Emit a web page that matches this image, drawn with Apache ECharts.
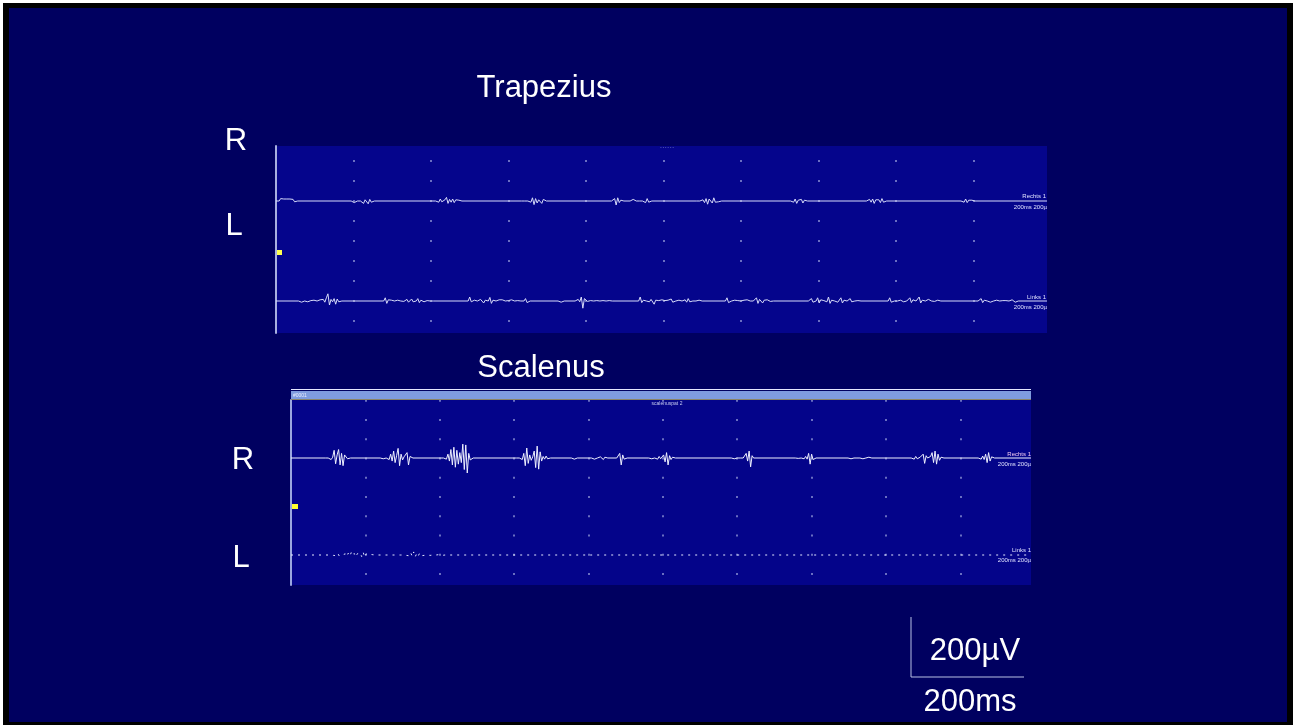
<!DOCTYPE html>
<html>
<head>
<meta charset="utf-8">
<script src="https://cdn.jsdelivr.net/npm/echarts@6/dist/echarts.min.js"></script>
<style>
  html, body { margin: 0; padding: 0; background: #fff; }
  #main { width: 1296px; height: 728px; }
</style>
</head>
<body>
<div id="main"></div>
<script>
// time axis in ms (10 divisions per panel), amplitude in µV
var xMax = 995;
var step = 2; // ms between samples inside a burst

// Trapezius right: [start ms, samples µV]
var trapR = [
  [4,   [0, 6, 6, 5, 5, 5, 5, 5, 5, 4, -2, 0]],
  [99,  [4, -4, 0, 0, 0, 0, 5, -6, 3, 8, -7, 4, -3, 2, 0]],
  [208, [2, -3, 5, -2, -4, 3, 9, -6, 4, -3, 5, -4, 3, -2, 2, 0]],
  [319, [3, 0, 0, 0, 4, -3, 8, -9, 6, -5, 3, 7, -6, 4, 0, 0]],
  [435, [0, 6, -10, 8, -4, 2, 0, 0, 0, 0, 0, 0, -3, 4, 0, 0, 0, 0, 0, 0, 0, -4, 6, -3, 0]],
  [545, [2, 0, -2, 3, -4, 6, -8, 5, 3, -5, 8, -3, 2, -2, 0]],
  [666, [3, -3, 5, -6, 2, 0, 4, -5, 2, 0]],
  [764, [2, 4, -3, 5, -6, 3, 0, 3, -4, 6, -3, 0]],
  [886, [3, -3, 5, -4, 2, 0, 2, 0]]
];

// Trapezius left
var trapL = [
  [31,  [5, -3, 2, 0, 1, -2, 2, 1, -1, 2, -2, 0, 0, 3, -2, 4, -3, 8, 18, -10, 4, -2, 6, -8, 5, -2, 0]],
  [141, [8, -6, 3, -2, 2, 1, 0, -1, 2, 0, 0, 0, -1, 2, 4, -3, 2, 5, -2, 3, 0, 6, -4, 2, 3, -2, 0, 1, 0, 0, 0]],
  [250, [10, -2, -2, 2, 0, 0, 0, 4, 8, -5, 2, 0, 0, 9, -6, 2, 0, 0, 1, 3, 6, 3, -1, 0, 0, 1, 2, 3, 1, 0, -1, 1, 2, 0, 0, 0, 6, -4, 0]],
  [366, [5, -3, 0]],
  [388, [2, 4, -2, 10, -18, 6, 2, -1, 2, 1, 0, 0, 2, 1, 0, 0, -1, 1, 0, 0, 0, 1, 0, 0]],
  [470, [10, -4, 2, 0, 0, 0, -2, 4, 6, -8, 2, 0, 1, 2, 3, -2, 1, 0, 2, 3, 5, -3, 1, 0, 1, 2, 0, 0, 0, 3, -3, 6, -2, 1, 0, 0, 0, 1, 2, -2, 0]],
  [582, [8, -4, 1, 0, 0, 2, 3, 1, 0, 0, 0, 2, -1, 3, 2, 0, 1, 0, 2, 8, -6, 4, 6, -5, 2, 0, 3, 2, -1, 1, 0]],
  [689, [2, 6, -3, 2, 0, 8, -5, 3, 0, 1, 2, -2, 10, -6, 2, 4, 0, 2, -3, 0, 8, -5, 2, 0, 0, 2, 6, -2, 0, 0, 0, 1, 0]],
  [792, [8, -3, 1, 0, 0, 0, 0, 2, 4, -2, 1, 0, 2, 8, -4, 3, 0, 0, 0, 10, -5, 2, 0, 0, 2, 4, 1, 0, 0, -1, 1, 2, 1, 0]],
  [908, [3, 6, -4, 2, 0, 0, 5, -3, 1, 0, 1, 2, 2, 0, -1, 1, 2, 1, 0, 0, 1, 3, 6, -3, 0]]
];

// Scalenus right
var scalR = [
  [48,  [3, 0, 5, -4, 2, 20, -15, 8, 22, -18, 12, -20, 8, 3, -2, 0]],
  [122, [2, -2, 3, 0, 5, -4, 10, -8, 18, -12, 6, 25, -20, 10, -5, 3, 0, 14, -18, 4, 0]],
  [207, [4, -3, 10, -8, 22, -18, 28, -24, 20, -16, 14, -12, 36, -30, 34, -39, 12, -5, 0]],
  [305, [2, 0, 5, -4, 12, -20, 26, -14, 8, -6, 3, 18, -25, 31, -29, 16, -8, 4, -3, 5, -2, 1, 0]],
  [379, [3, -3, 2, 0]],
  [406, [4, -3, 2, 0, 0, 3, 5, -4, 2, 0]],
  [440, [5, 12, -18, 8, -3, 0]],
  [483, [2, -2, 3, 0, 2, -3, 4, -2, 3, 8, -10, 14, -18, 6, -4, 2, 0]],
  [594, [2, -2, 3, 0, 1, 0, 0, 0, 2, 12, -8, 18, -23, 6, 0]],
  [680, [2, -1, 3, 0, 2, -2, 4, -3, 12, -16, 10, -4, 0]],
  [751, [2, -2, 2, 0, 0, 0, 0, 0, 2, -2, 0, 0, 0, 2, -1, 0]],
  [836, [2, -3, 4, -2, 0, 2, -2, 10, -14, 6, 0, 0, 4, 14, -12, 18, -16, 10, -6, 2, 0]],
  [926, [2, -3, 5, -4, 10, -12, 14, -8, 3, 0]]
];

// Scalenus left
var scalL = [
  [55,  [2, -1, 3, -2, 4, -3, 2, 0, 1, 3, -4, 5, -3, 6, -2, 4, -5, 3, -2, 6, -4, 8, -6, 3, -2, 2, 0, 1, -1, 0]],
  [149, [1, 0, 2, -1, 3, -2, 6, -4, 8, -5, 4, -3, 5, -2, 3, -1, 2, 0, 1, -1, 2, 0, 1, 0, 0, 1, 0, -1, 0]]
];

function buildTrace(bursts) {
  var out = [[0, 0]];
  bursts.forEach(function (b) {
    out.push([b[0] - step, 0]);
    b[1].forEach(function (v, i) { out.push([b[0] + i * step, v]); });
    out.push([b[0] + b[1].length * step, 0]);
  });
  out.push([xMax, 0]);
  return out;
}

var FONT = "'Liberation Sans', Arial, sans-serif";
var dotColor = '#8c93d4';

function xAx(grid, dash, offset) {
  return {
    type: 'value', gridIndex: grid, min: 0, max: xMax, interval: 100,
    axisLine: { show: false }, axisTick: { show: false }, axisLabel: { show: false },
    splitLine: {
      show: true, showMinLine: false, showMaxLine: false,
      lineStyle: { color: dotColor, width: 1.5, type: dash, dashOffset: offset }
    }
  };
}
function yAx(grid, min, max, showLine, lineColor) {
  return {
    type: 'value', gridIndex: grid, min: min, max: max,
    axisLine: { show: showLine, onZero: false, lineStyle: { color: lineColor, width: 2 } },
    axisTick: { show: false }, axisLabel: { show: false }, splitLine: { show: false }
  };
}

function txt(x, y, s, size, color, align) {
  return {
    type: 'text', x: x, y: y, z: 100,
    style: { text: s, fill: color || '#ffffff', font: size + 'px ' + FONT, textAlign: align || 'center', textVerticalAlign: 'middle' }
  };
}

var chart = echarts.init(document.getElementById('main'));
chart.setOption({
  animation: false,
  backgroundColor: '#ffffff',
  grid: [
    { left: 276, top: 146, width: 771, height: 187, show: true, backgroundColor: '#05058c', borderWidth: 0 },
    { left: 291, top: 400, width: 740, height: 185, show: true, backgroundColor: '#04048a', borderWidth: 0 }
  ],
  xAxis: [
    xAx(0, [2, 18], 6),
    xAx(1, [2, 17.25], 0.25)
  ],
  yAxis: [
    yAx(0, -330, 137.5, true, '#a8b0e0'),
    yAx(0, -80, 387.5, false),
    yAx(1, -330.2, 150.8, true, '#9aa6e0'),
    yAx(1, -78, 403, false)
  ],
  series: [
    { type: 'line', xAxisIndex: 0, yAxisIndex: 0, data: buildTrace(trapR), showSymbol: false,
      lineStyle: { color: '#d8dcfa', width: 1 } },
    { type: 'line', xAxisIndex: 0, yAxisIndex: 1, data: buildTrace(trapL), showSymbol: false,
      lineStyle: { color: '#d8dcfa', width: 1 } },
    { type: 'line', xAxisIndex: 1, yAxisIndex: 2, data: buildTrace(scalR), showSymbol: false,
      lineStyle: { color: '#eef0ff', width: 1 } },
    { type: 'line', xAxisIndex: 1, yAxisIndex: 3, data: buildTrace(scalL), showSymbol: false,
      lineStyle: { color: '#e4e8ff', width: 1, type: [2, 5] } }
  ],
  graphic: [
    // slide frame
    { type: 'rect', shape: { x: 3, y: 3, width: 1290, height: 722 }, style: { fill: '#000000' }, z: -10 },
    { type: 'rect', shape: { x: 9, y: 8, width: 1278, height: 714 }, style: { fill: '#000060' }, z: -9 },
    // scalenus header bar
    { type: 'rect', shape: { x: 291, y: 389, width: 740, height: 1 }, style: { fill: '#e6e8ff' }, z: 50 },
    { type: 'rect', shape: { x: 291, y: 391, width: 740, height: 9 }, style: { fill: '#7f9be0' }, z: 50 },
    { type: 'rect', shape: { x: 291, y: 399, width: 740, height: 1 }, style: { fill: '#8a8468' }, z: 50 },
    txt(293, 396, '#0001', 5, '#e8ecff', 'left'),
    txt(667, 404, 'scalenuspat 2', 5, '#c8ccf0'),
    txt(667, 147, '- - - - - -', 4, '#8c93d4'),
    // yellow markers
    { type: 'rect', shape: { x: 277, y: 250, width: 5, height: 5 }, style: { fill: '#ffff50' }, z: 50 },
    { type: 'rect', shape: { x: 292, y: 504, width: 6, height: 5 }, style: { fill: '#ffff30' }, z: 50 },
    // channel tags
    txt(1046, 196, 'Rechts 1', 6, '#e0e2ff', 'right'),
    txt(1047, 207, '200ms 200µ', 6, '#e0e2ff', 'right'),
    txt(1046, 297, 'Links 1', 6, '#e0e2ff', 'right'),
    txt(1047, 307, '200ms 200µ', 6, '#e0e2ff', 'right'),
    txt(1031, 454, 'Rechts 1', 6, '#f0c8f0', 'right'),
    txt(1031, 464, '200ms 200µ', 6, '#e0e2ff', 'right'),
    txt(1031, 550, 'Links 1', 6, '#e0e2ff', 'right'),
    txt(1031, 560, '200ms 200µ', 6, '#e0e2ff', 'right'),
    // titles and side labels
    txt(544, 88, 'Trapezius', 31),
    txt(541, 368, 'Scalenus', 31),
    txt(236, 141, 'R', 31),
    txt(234, 226, 'L', 31),
    txt(243, 460, 'R', 31),
    txt(241, 558, 'L', 31),
    // calibration bar
    { type: 'polyline', shape: { points: [[911, 617], [911, 677], [1024, 677]] },
      style: { stroke: '#b8c0e4', lineWidth: 1, fill: null }, z: 50 },
    txt(975, 651, '200µV', 31),
    txt(970, 702, '200ms', 31)
  ]
});
</script>
</body>
</html>
